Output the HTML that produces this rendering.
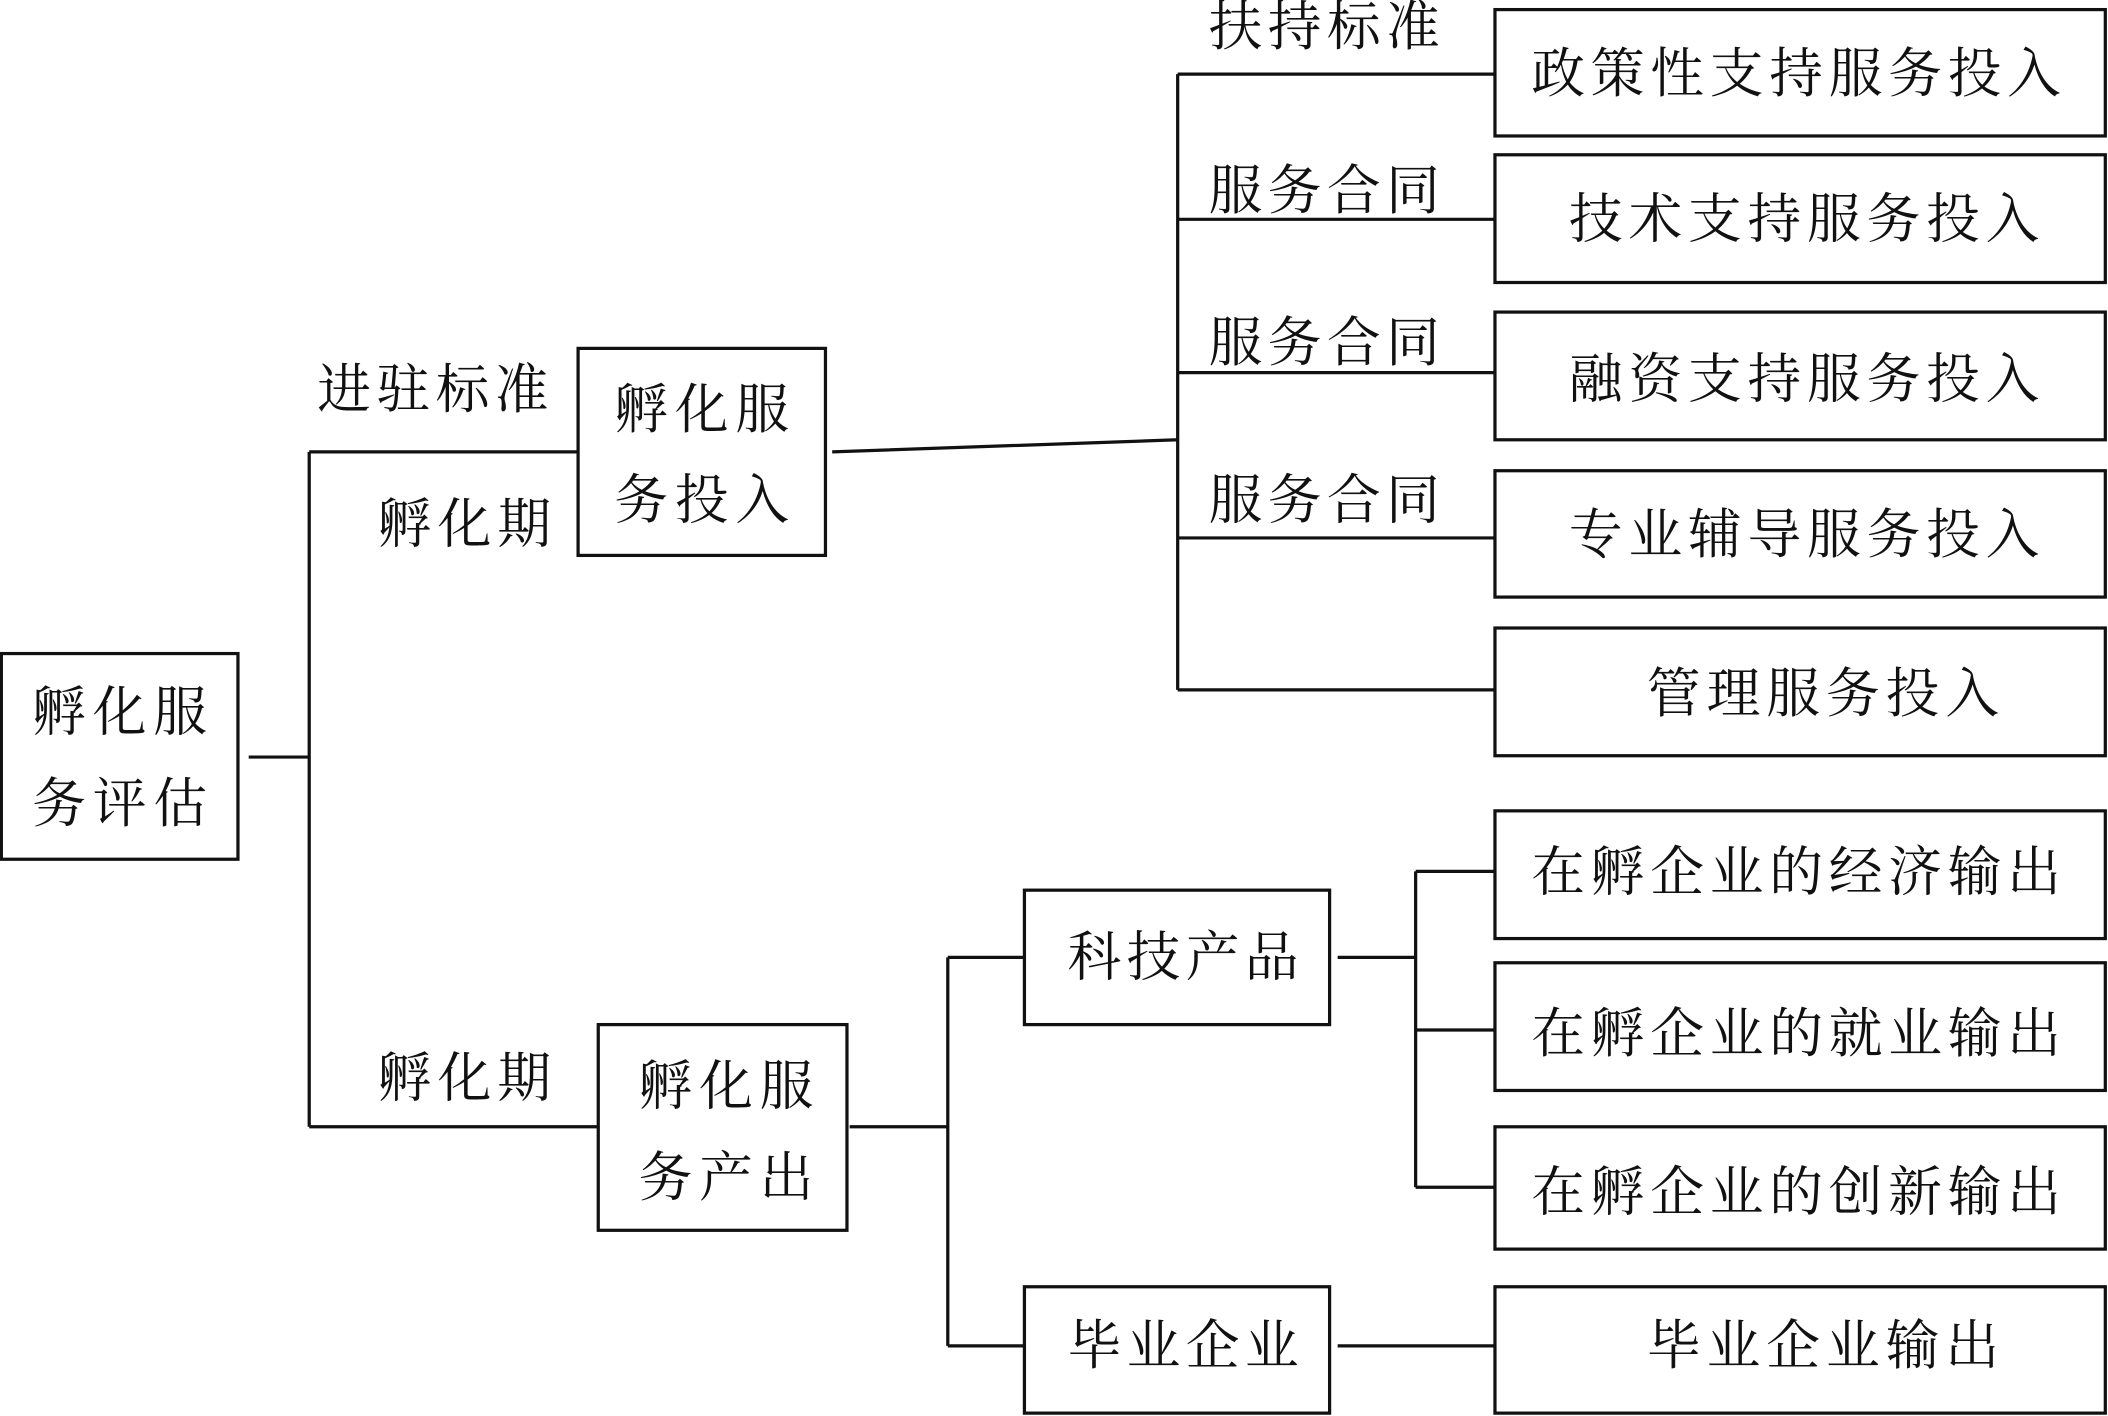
<!DOCTYPE html>
<html><head><meta charset="utf-8"><style>html,body{margin:0;padding:0;background:#fff}svg{display:block}</style></head>
<body>
<svg width="2108" height="1416" viewBox="0 0 1568 1053" xmlns="http://www.w3.org/2000/svg">
<g fill="none" stroke="#111" stroke-width="2.4">
<rect x="1" y="486" width="176" height="153"/>
<rect x="430" y="259" width="184" height="154"/>
<rect x="445" y="762" width="185" height="153"/>
<rect x="762" y="662" width="227" height="100"/>
<rect x="762" y="957" width="227" height="94"/>
<rect x="1112" y="7" width="454" height="94"/>
<rect x="1112" y="115" width="454" height="95"/>
<rect x="1112" y="232" width="454" height="95"/>
<rect x="1112" y="350" width="454" height="94"/>
<rect x="1112" y="467" width="454" height="95"/>
<rect x="1112" y="603" width="454" height="95"/>
<rect x="1112" y="716" width="454" height="95"/>
<rect x="1112" y="838" width="454" height="91"/>
<rect x="1112" y="957" width="454" height="94"/>
<path d="M185 563H230M230 336V838M230 336H430M230 838H445"/>
<path d="M619 336L876 327M876 55V513M876 55H1112M876 163H1112M876 277H1112M876 400H1112M876 513H1112"/>
<path d="M632 838H705M705 712V1001M705 712H762M705 1001H762"/>
<path d="M995 712H1053M1053 648V883M1053 648H1112M1053 766H1112M1053 883H1112M995 1001H1112"/>
</g>
<g font-family="'Liberation Serif','Noto Serif CJK SC',serif" font-size="40" fill="#111" dominant-baseline="central" lengthAdjust="spacing">
<text x="24" y="530" textLength="130" lengthAdjust="spacing">孵化服</text>
<text x="24" y="598" textLength="130" lengthAdjust="spacing">务评估</text>
<text x="457" y="305" textLength="130" lengthAdjust="spacing">孵化服</text>
<text x="457" y="372" textLength="130" lengthAdjust="spacing">务投入</text>
<text x="475" y="808" textLength="130" lengthAdjust="spacing">孵化服</text>
<text x="475" y="876" textLength="130" lengthAdjust="spacing">务产出</text>
<text x="236" y="290" textLength="172" lengthAdjust="spacing">进驻标准</text>
<text x="281" y="390" textLength="129" lengthAdjust="spacing">孵化期</text>
<text x="281" y="802" textLength="129" lengthAdjust="spacing">孵化期</text>
<text x="899" y="20" textLength="172" lengthAdjust="spacing">扶持标准</text>
<text x="899" y="142" textLength="172" lengthAdjust="spacing">服务合同</text>
<text x="899" y="255" textLength="172" lengthAdjust="spacing">服务合同</text>
<text x="899" y="372" textLength="172" lengthAdjust="spacing">服务合同</text>
<text x="1139" y="55" textLength="394" lengthAdjust="spacing">政策性支持服务投入</text>
<text x="1167" y="163" textLength="350" lengthAdjust="spacing">技术支持服务投入</text>
<text x="1167" y="282" textLength="350" lengthAdjust="spacing">融资支持服务投入</text>
<text x="1167" y="398" textLength="350" lengthAdjust="spacing">专业辅导服务投入</text>
<text x="1225" y="516" textLength="262" lengthAdjust="spacing">管理服务投入</text>
<text x="1139" y="649" textLength="394" lengthAdjust="spacing">在孵企业的经济输出</text>
<text x="1139" y="769" textLength="394" lengthAdjust="spacing">在孵企业的就业输出</text>
<text x="1139" y="887" textLength="394" lengthAdjust="spacing">在孵企业的创新输出</text>
<text x="1225" y="1001" textLength="262" lengthAdjust="spacing">毕业企业输出</text>
<text x="794" y="712" textLength="172" lengthAdjust="spacing">科技产品</text>
<text x="794" y="1001" textLength="172" lengthAdjust="spacing">毕业企业</text>
</g>
</svg>
</body></html>
